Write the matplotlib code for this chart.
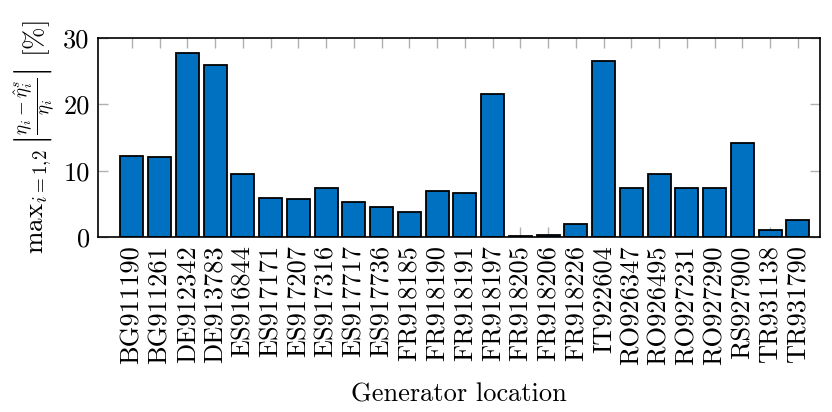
import matplotlib
matplotlib.use("Agg")
import matplotlib.pyplot as plt

plt.rcParams['font.family'] = 'serif'
plt.rcParams['font.serif'] = ['cmr10']
plt.rcParams['mathtext.fontset'] = 'cm'
plt.rcParams['axes.unicode_minus'] = False
plt.rcParams['axes.formatter.use_mathtext'] = True

# generator locations and relative error values [%]
locations = ['BG911190', 'BG911261', 'DE912342', 'DE913783', 'ES916844',
             'ES917171', 'ES917207', 'ES917316', 'ES917717', 'ES917736',
             'FR918185', 'FR918190', 'FR918191', 'FR918197', 'FR918205',
             'FR918206', 'FR918226', 'IT922604', 'RO926347', 'RO926495',
             'RO927231', 'RO927290', 'RS927900', 'TR931138', 'TR931790']
errors = [12.2, 12.0, 27.7, 26.0, 9.5,
          5.9, 5.8, 7.4, 5.2, 4.5,
          3.8, 7.0, 6.7, 21.5, 0.15,
          0.25, 2.0, 26.5, 7.4, 9.5,
          7.4, 7.4, 14.2, 1.1, 2.6]
yticks = [0, 10, 20, 30]

fig = plt.figure(figsize=(8.32, 4.12), dpi=100)
ax = fig.add_axes([0.1178, 0.4248, 0.8678, 0.483])

x = list(range(len(locations)))
ax.bar(x, errors, width=0.83, color='#0070C0', edgecolor='black', linewidth=1.3, zorder=3)

ax.set_xlim(-1.22, len(locations) - 0.2)
ax.set_ylim(0, 30)
ax.set_xticks(x)
ax.set_xticklabels(locations, rotation=90, fontsize=19)
ax.set_yticks(yticks)
ax.set_yticklabels([str(v) for v in yticks], fontsize=19)

ax.tick_params(axis='both', direction='in', length=7.5, width=1, color='#b0b0b0',
               top=True, right=True, pad=6)
for sp in ax.spines.values():
    sp.set_linewidth(1.2)
    sp.set_zorder(4)

ax.set_xlabel('Generator location', fontsize=19, labelpad=13)
ax.set_ylabel(r'$\mathrm{max}_{i=1{,}2}\,\left|\frac{\eta_i-\hat{\eta}_i^s}{\eta_i}\right|$ [%]',
              fontsize=19.5, labelpad=4)

fig.savefig('out.png', dpi=100)
